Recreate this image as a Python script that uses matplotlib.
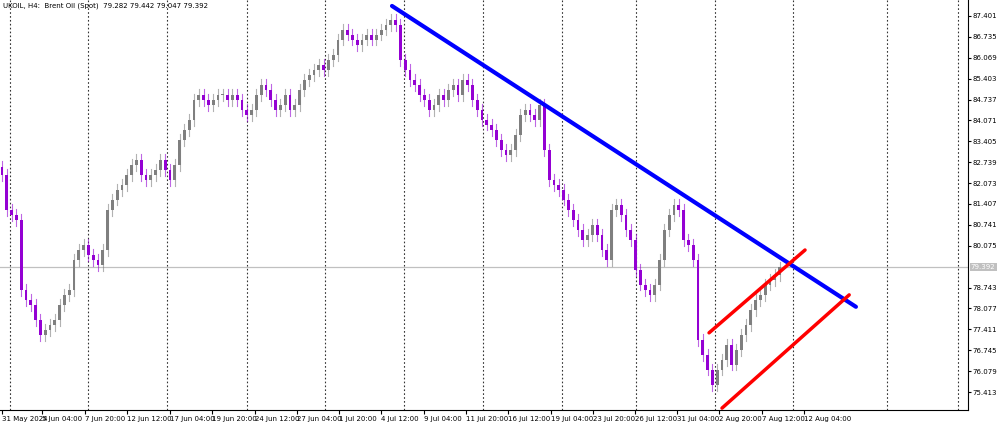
import matplotlib
matplotlib.use("Agg")
import matplotlib.pyplot as plt
from matplotlib.patches import Rectangle

closes = [82.33,81.22,81.06,80.90,78.67,78.35,78.19,77.71,77.23,77.39,77.55,77.71,78.19,78.51,78.67,79.62,79.94,80.10,79.78,79.62,79.46,79.94,81.22,81.54,81.85,82.01,82.33,82.65,82.81,82.33,82.17,82.33,82.49,82.81,82.49,82.17,82.65,83.45,83.77,84.08,84.72,84.88,84.72,84.56,84.72,84.88,84.88,84.72,84.88,84.72,84.40,84.24,84.40,84.88,85.20,85.04,84.72,84.40,84.56,84.88,84.40,84.56,85.04,85.36,85.52,85.68,85.84,85.68,86.00,86.16,86.64,86.96,86.80,86.64,86.48,86.64,86.80,86.64,86.80,86.96,87.11,87.27,87.11,86.00,85.68,85.36,85.20,84.88,84.72,84.40,84.56,84.88,84.72,85.04,85.20,84.88,85.36,85.20,84.72,84.40,84.08,83.93,83.77,83.45,83.13,82.97,83.13,83.61,84.24,84.40,84.24,84.08,84.56,83.13,82.17,82.01,81.85,81.54,81.22,80.90,80.58,80.26,80.42,80.74,80.42,79.94,79.62,81.22,81.38,81.06,80.58,80.26,79.30,78.83,78.67,78.51,78.83,79.62,80.58,81.06,81.38,81.22,80.26,80.10,79.62,77.07,76.59,76.12,75.64,76.12,76.43,76.91,76.28,76.75,77.23,77.55,78.03,78.35,78.51,78.83,78.98,79.14,79.39]
first_open = 82.60
x_labels = ["31 May 2024","5 Jun 04:00","7 Jun 20:00","12 Jun 12:00","17 Jun 04:00","19 Jun 20:00",
            "24 Jun 12:00","27 Jun 04:00","1 Jul 20:00","4 Jul 12:00","9 Jul 04:00","11 Jul 20:00",
            "16 Jul 12:00","19 Jul 04:00","23 Jul 20:00","26 Jul 12:00","31 Jul 04:00","2 Aug 20:00",
            "7 Aug 12:00","12 Aug 04:00"]
label_px = [2,42,85,127,170,212,255,297,339,381,424,466,508,551,593,635,677,719,762,804]
grid_px = [10,88,167,247,325,404,483,562,636,715,793,887,958]
y_ticks = [87.401,86.735,86.069,85.403,84.737,84.071,83.405,82.739,82.073,81.407,80.741,80.075,
           78.743,78.077,77.411,76.745,76.079,75.413]
current = 79.392
blue_line = ([81.25,177.9],[87.72,78.13])
red_upper = ([147.3,167.3],[77.30,79.94])
red_lower = ([150.0,176.5],[74.90,78.51])

step = 4.8
def px2i(p): return (p-2)/step

fig = plt.figure(figsize=(10,4.26), dpi=100)
ax = fig.add_axes([0, 16/426, 968/1000, 410/426])
ax.set_xlim(px2i(0), px2i(968))
ax.set_ylim(74.84, 87.91)

opens = [first_open] + closes[:-1]
up_c, dn_c = "#7f7f7f", "#9400d3"
for i,(o,c) in enumerate(zip(opens,closes)):
    col = up_c if c >= o else dn_c
    hi, lo = max(o,c)+0.18, min(o,c)-0.18
    ax.plot([i,i],[lo,hi], color=col, lw=0.8, alpha=0.6, zorder=2)
    h = max(abs(c-o), 0.03)
    ax.add_patch(Rectangle((i-0.3, min(o,c)), 0.6, h, color=col, zorder=3, lw=0))

for g in grid_px:
    ax.axvline(px2i(g), color="#333333", ls=(0,(1.5,2)), lw=0.8, zorder=1)
ax.axhline(current, color="#c0c0c0", lw=0.9, zorder=1)
ax.plot(*blue_line, color="#0000ff", lw=3, zorder=5, solid_capstyle="round")
ax.plot(*red_upper, color="#ff0000", lw=2.5, zorder=5, solid_capstyle="round")
ax.plot(*red_lower, color="#ff0000", lw=2.5, zorder=5, solid_capstyle="round")

ax.yaxis.tick_right()
ax.set_yticks(y_ticks)
ax.set_yticklabels([f"{v:.3f}" for v in y_ticks], fontsize=5)
ax.tick_params(axis="y", length=2, pad=1)
ax.set_xticks([px2i(p) for p in label_px])
ax.set_xticklabels(x_labels, fontsize=5, ha="left")
ax.tick_params(axis="x", length=3, pad=1)
for s in ["top","left"]:
    ax.spines[s].set_visible(False)
ax.text(1.003, (current-74.84)/(87.91-74.84), f"{current:.3f}", transform=ax.transAxes,
        fontsize=5, color="white", va="center", ha="left",
        bbox=dict(boxstyle="square,pad=0.15", fc="#c0c0c0", ec="none"))
ax.text(0.003, 0.995, "UKOIL, H4:  Brent Oil (Spot)  79.282 79.442 79.047 79.392",
        transform=ax.transAxes, fontsize=5, va="top", ha="left")
fig.savefig("out.png", dpi=100)
